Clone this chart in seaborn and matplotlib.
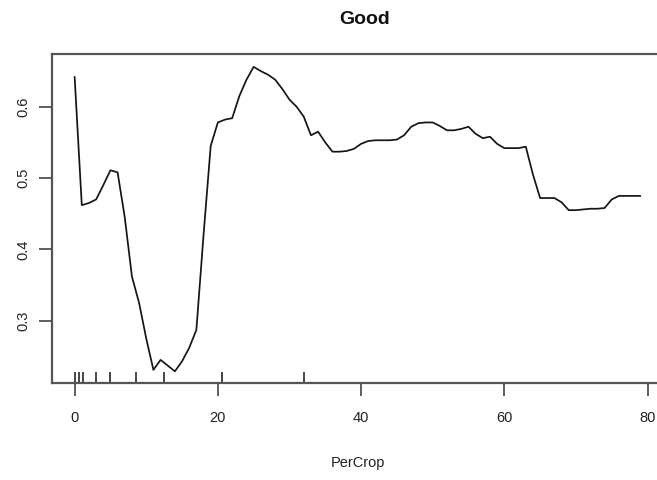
import numpy as np
import pandas as pd
import matplotlib
matplotlib.use("Agg")
import matplotlib.pyplot as plt
import seaborn as sns

# Smoothed response along PerCrop
percrop = list(range(0, 80))
response = [
    0.642, 0.462, 0.465, 0.470, 0.490, 0.511, 0.508, 0.445, 0.362, 0.325,
    0.275, 0.231, 0.245, 0.237, 0.229, 0.243, 0.262, 0.287, 0.420, 0.545,
    0.578, 0.582, 0.584, 0.615, 0.638, 0.656, 0.650, 0.645, 0.638, 0.625,
    0.610, 0.600, 0.586, 0.560, 0.565, 0.550, 0.537, 0.537, 0.538, 0.541,
    0.548, 0.552, 0.553, 0.553, 0.553, 0.554, 0.560, 0.572, 0.577, 0.578,
    0.578, 0.573, 0.567, 0.567, 0.569, 0.572, 0.562, 0.556, 0.558, 0.548,
    0.542, 0.542, 0.542, 0.544, 0.505, 0.472, 0.472, 0.472, 0.466, 0.455,
    0.455, 0.456, 0.457, 0.457, 0.458, 0.470, 0.475, 0.475, 0.475, 0.475,
]

# Observed PerCrop values shown as a rug
rug_values = [0, 0.6, 1.2, 3, 5, 8.5, 12.5, 20.6, 32]

x_ticks = [0, 20, 40, 60, 80]
y_ticks = [0.3, 0.4, 0.5, 0.6]

df = pd.DataFrame({"PerCrop": percrop, "Good": response})

sns.set_style("ticks")
plt.rcParams["font.family"] = ["Liberation Sans", "DejaVu Sans"]

fig = plt.figure(figsize=(6.57, 4.80), dpi=100)
ax = fig.add_axes([52 / 657, 1 - 383 / 480, (663 - 52) / 657, (383 - 54) / 480])

sns.lineplot(data=df, x="PerCrop", y="Good", ax=ax, color="#151515", linewidth=1.25)
sns.rugplot(x=rug_values, ax=ax, height=0.033, color="#151515", linewidth=1.1)

ax.set_xlim(-3.16, 82.16)
ax.set_ylim(0.2126, 0.674)
ax.set_xticks(x_ticks)
ax.set_yticks(y_ticks)
ax.set_yticklabels([f"{v:.1f}" for v in y_ticks], rotation=90, va="center")

for side in ["left", "bottom", "top"]:
    ax.spines[side].set_visible(True)
    ax.spines[side].set_color("#555555")
    ax.spines[side].set_linewidth(1.6)
ax.spines["right"].set_visible(False)

ax.tick_params(axis="both", direction="out", length=9.5, width=1.1,
               color="#333333", labelsize=10.5, labelcolor="#222222")
ax.tick_params(axis="x", pad=11)
ax.tick_params(axis="y", pad=6)

ax.set_xlabel("PerCrop", fontsize=10.5, color="#222222", labelpad=22)
ax.set_ylabel("")
fig.text(365 / 657, 1 - 20 / 480, "Good", ha="center", va="center",
         fontsize=14, fontweight="bold", color="#111111")

fig.savefig("out.png", dpi=100, facecolor="white")
